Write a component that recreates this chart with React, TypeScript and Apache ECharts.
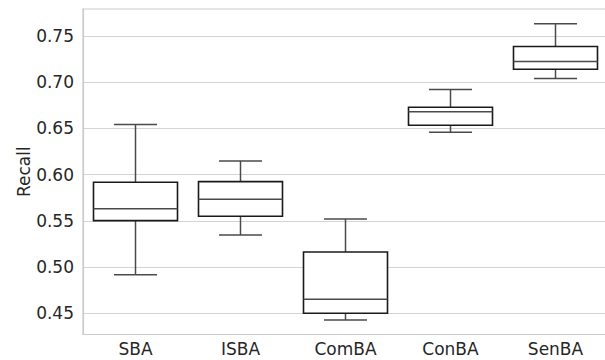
import React, { useEffect, useRef } from "react";
import * as echarts from "echarts";

const categories = ["SBA", "ISBA", "ComBA", "ConBA", "SenBA"];
const lowerWhisker = [0.4917, 0.5346, 0.4426, 0.6458, 0.7038];
const q1 = [0.5501, 0.5548, 0.45, 0.6533, 0.7139];
const median = [0.5631, 0.5732, 0.465, 0.6678, 0.7222];
const q3 = [0.5917, 0.5923, 0.5162, 0.6728, 0.7384];
const upperWhisker = [0.654, 0.6147, 0.5519, 0.6919, 0.763];
const yTicks = [0.45, 0.5, 0.55, 0.6, 0.65, 0.7, 0.75];

export default function App() {
  const ref = useRef<HTMLDivElement>(null);
  useEffect(() => {
    if (!ref.current) return;
    const chart = echarts.init(ref.current, null, { renderer: "svg" });
    const data = categories.map((_, i) => [
      i,
      lowerWhisker[i],
      q1[i],
      median[i],
      q3[i],
      upperWhisker[i],
    ]);
    const textColor = "#262626";
    const font = "DejaVu Sans";
    const fs = 17;
    chart.setOption({
      animation: false,
      grid: {
        left: 83,
        right: -3,
        top: 9,
        bottom: 25.5,
        outerBoundsMode: "none",
        containLabel: false,
        show: true,
        borderColor: "#cccccc",
        borderWidth: 1.2,
        backgroundColor: "transparent",
      },
      xAxis: {
        type: "category",
        data: categories,
        boundaryGap: true,
        axisLine: { show: true, lineStyle: { color: "#cccccc", width: 1.2 } },
        axisTick: { show: false },
        axisLabel: { color: textColor, fontFamily: font, fontSize: fs, margin: 6 },
        splitLine: { show: false },
      },
      yAxis: {
        type: "value",
        min: 0.427,
        max: 0.779,
        name: "Recall",
        nameLocation: "middle",
        nameGap: 51,
        nameMoveOverlap: false,
        nameTextStyle: { color: textColor, fontFamily: font, fontSize: fs },
        axisLine: { show: true, lineStyle: { color: "#cccccc", width: 1.2 } },
        axisTick: { show: false, customValues: yTicks },
        axisLabel: {
          color: textColor,
          fontFamily: font,
          fontSize: fs,
          margin: 9,
          customValues: yTicks,
          formatter: (v: number) => v.toFixed(2),
        },
        splitLine: { show: true, lineStyle: { color: "#d4d4d4", width: 1 } },
      },
      series: [
        {
          type: "custom",
          data,
          encode: { x: 0, y: [1, 2, 3, 4, 5] },
          renderItem: (params: any, api: any) => {
            const idx = api.value(0);
            const band = api.size([1, 0])[0];
            const bw = band * 0.8;
            const cw = band * 0.41;
            const pLow = api.coord([idx, api.value(1)]);
            const pQ1 = api.coord([idx, api.value(2)]);
            const pMed = api.coord([idx, api.value(3)]);
            const pQ3 = api.coord([idx, api.value(4)]);
            const pHigh = api.coord([idx, api.value(5)]);
            const cx = pLow[0];
            const wStyle = { stroke: "#4a4a4a", lineWidth: 1.5, fill: "none" };
            return {
              type: "group",
              children: [
                { type: "line", shape: { x1: cx, y1: pQ3[1], x2: cx, y2: pHigh[1] }, style: wStyle },
                { type: "line", shape: { x1: cx, y1: pQ1[1], x2: cx, y2: pLow[1] }, style: wStyle },
                { type: "line", shape: { x1: cx - cw / 2, y1: pHigh[1], x2: cx + cw / 2, y2: pHigh[1] }, style: wStyle },
                { type: "line", shape: { x1: cx - cw / 2, y1: pLow[1], x2: cx + cw / 2, y2: pLow[1] }, style: wStyle },
                {
                  type: "rect",
                  shape: { x: cx - bw / 2, y: pQ3[1], width: bw, height: pQ1[1] - pQ3[1] },
                  style: { fill: "#ffffff", stroke: "#1a1a1a", lineWidth: 1.6 },
                },
                { type: "line", shape: { x1: cx - bw / 2, y1: pMed[1], x2: cx + bw / 2, y2: pMed[1] }, style: wStyle },
              ],
            };
          },
        },
      ],
    });
    return () => chart.dispose();
  }, []);
  return <div ref={ref} style={{ width: 605, height: 360, position: "absolute", left: 0, top: 0 }} />;
}
